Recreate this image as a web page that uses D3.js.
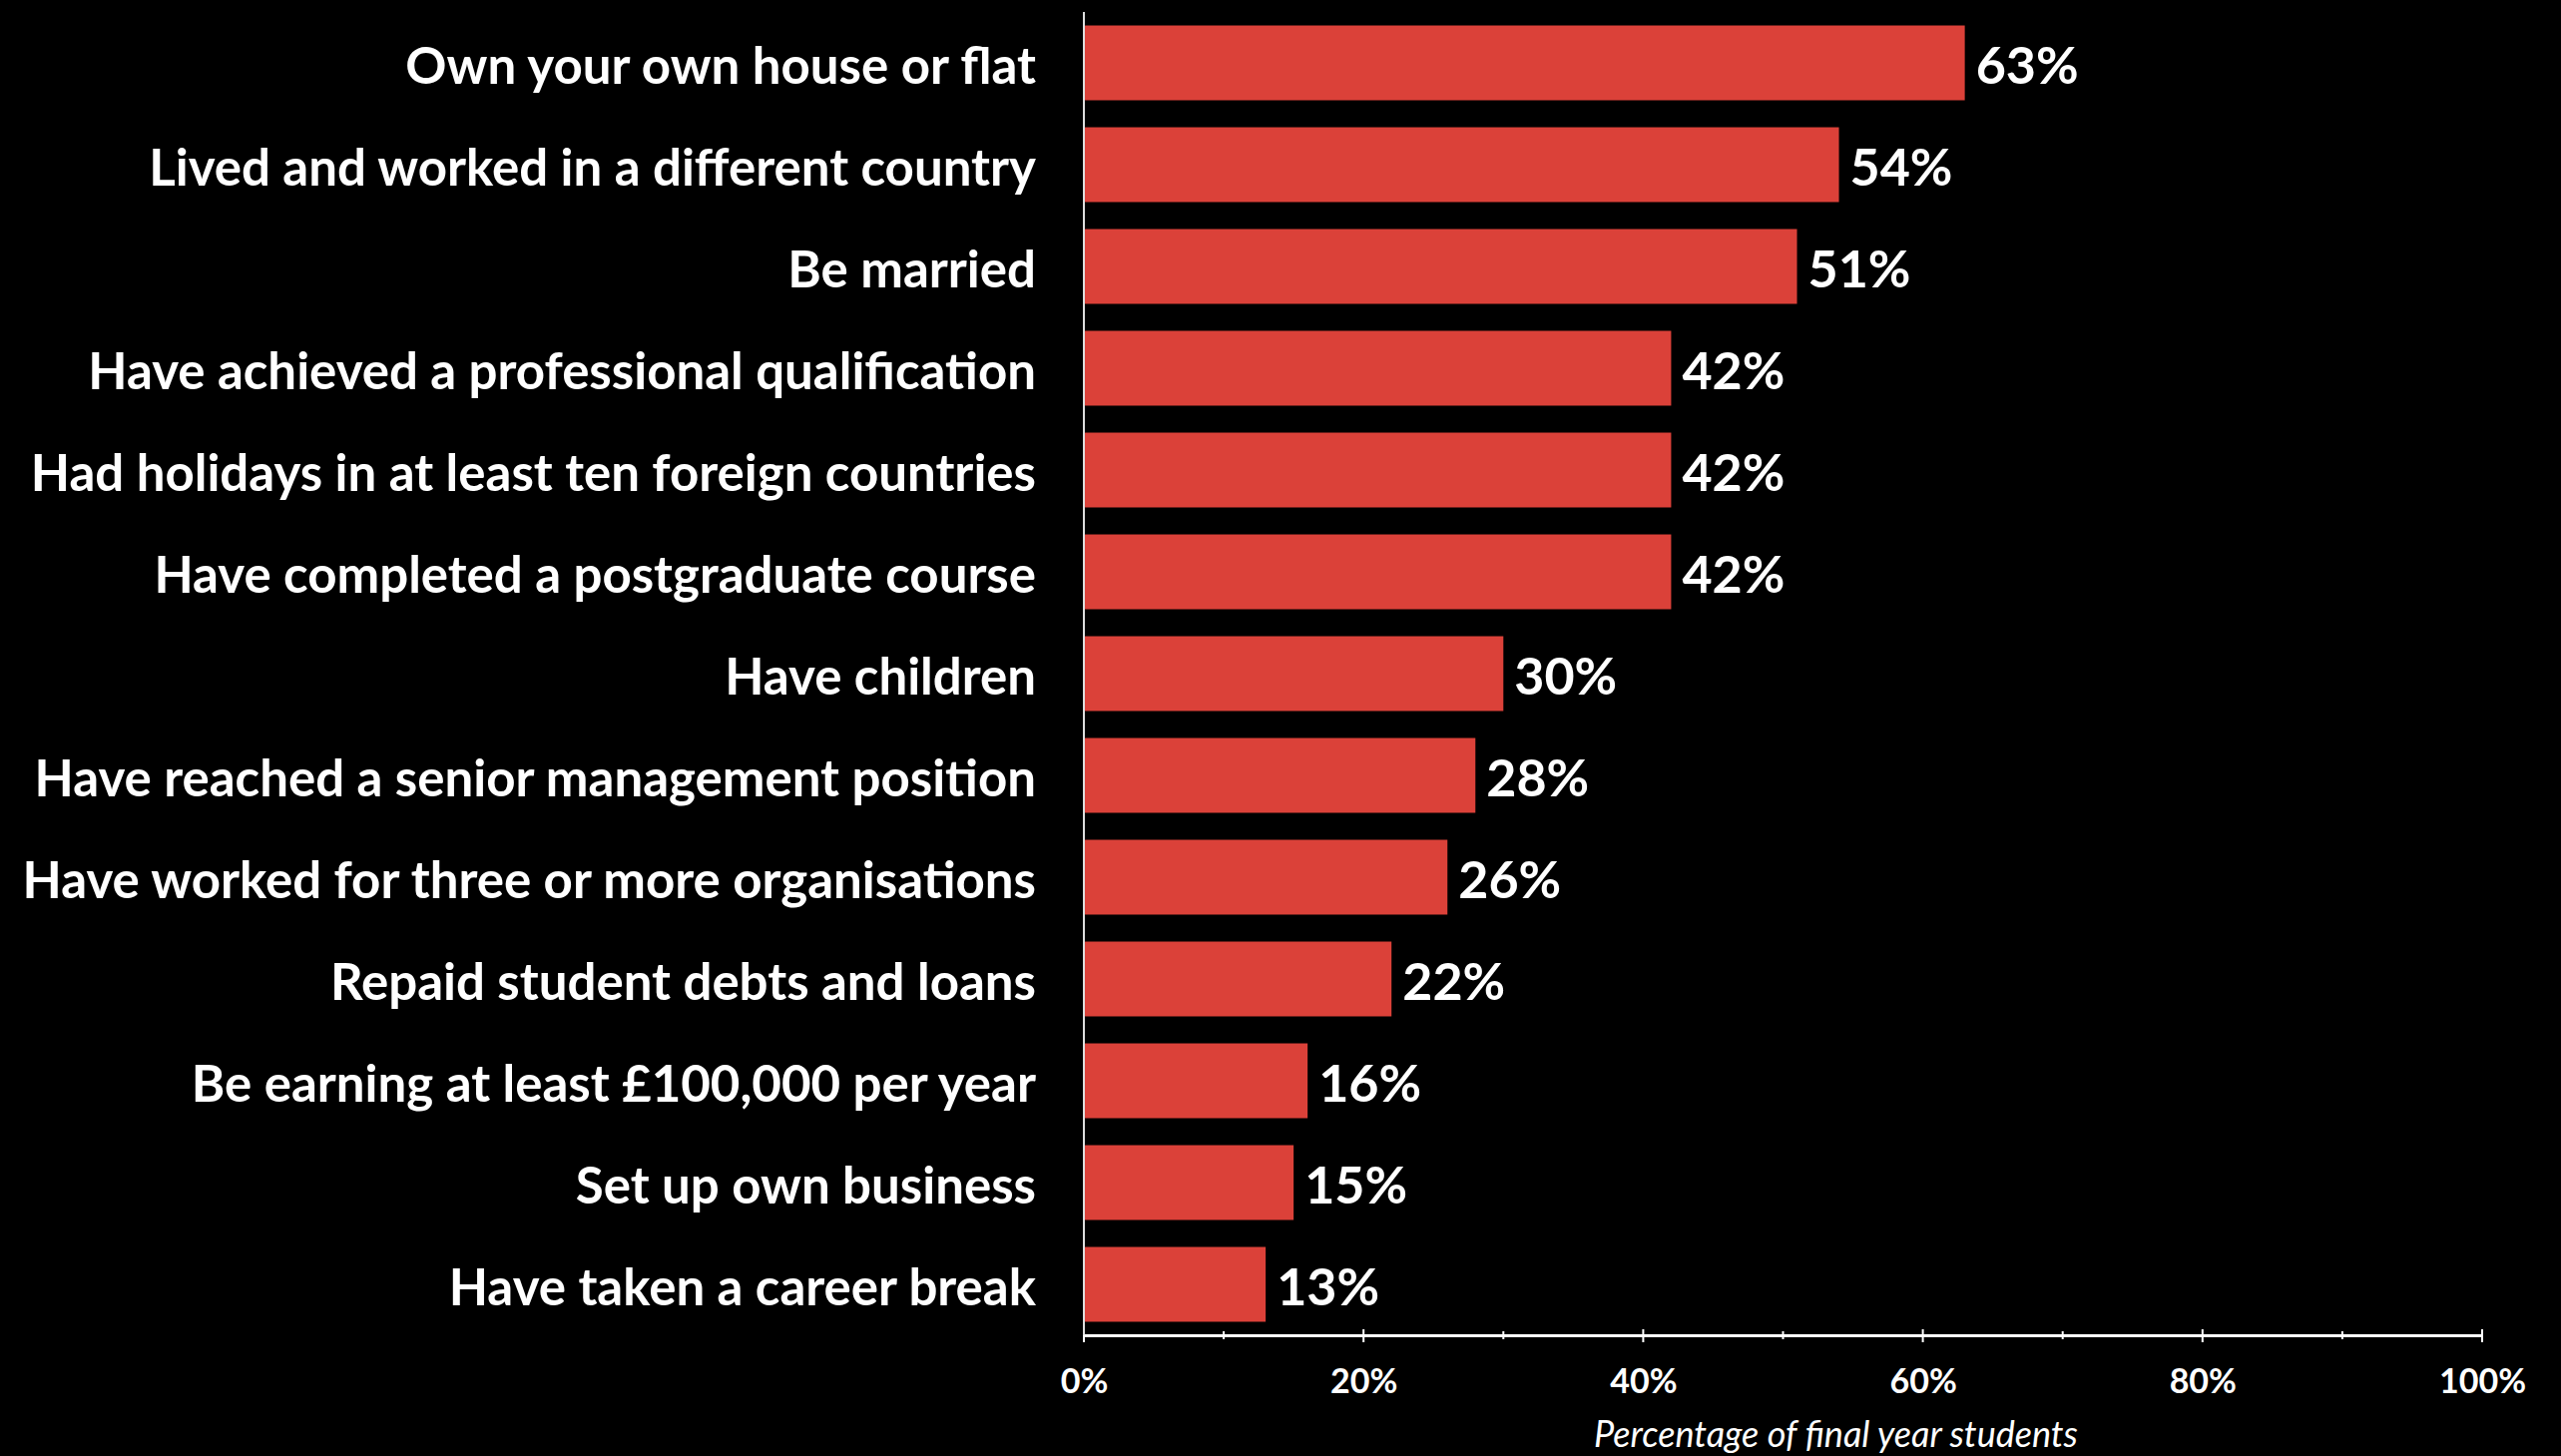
<!DOCTYPE html>
<html>
<head>
<meta charset="utf-8">
<script src="https://cdn.jsdelivr.net/npm/d3@7"></script>
<style>
  html, body { margin: 0; padding: 0; background: #000; }
  svg { display: block; }
</style>
</head>
<body>
<svg id="chart" width="2566" height="1459"></svg>
<script>
const categories = [
  "Own your own house or flat",
  "Lived and worked in a different country",
  "Be married",
  "Have achieved a professional qualification",
  "Had holidays in at least ten foreign countries",
  "Have completed a postgraduate course",
  "Have children",
  "Have reached a senior management position",
  "Have worked for three or more organisations",
  "Repaid student debts and loans",
  "Be earning at least £100,000 per year",
  "Set up own business",
  "Have taken a career break"
];
const values = [63, 54, 51, 42, 42, 42, 30, 28, 26, 22, 16, 15, 13];
const majorTicks = [0, 20, 40, 60, 80, 100];
const minorTicks = [10, 30, 50, 70, 90];
const axisTitle = "Percentage of final year students";

const FONT = "Lato, 'Open Sans', sans-serif";
const svg = d3.select("#chart");
const x0 = 1086, x1 = 2487, yTop = 12, yBot = 1338;

const x = d3.scaleLinear().domain([0, 100]).range([x0, x1]);
const y = d3.scaleBand().domain(categories).range([yTop, yBot])
  .paddingInner(0.265).paddingOuter(0.1325);

// bars
svg.append("g").selectAll("rect").data(values).join("rect")
  .attr("x", x(0))
  .attr("y", (d, i) => y(categories[i]))
  .attr("width", d => x(d) - x(0))
  .attr("height", y.bandwidth())
  .attr("fill", "#DB4139");

// category labels
svg.append("g").selectAll("text").data(categories).join("text")
  .attr("x", 1038)
  .attr("y", d => y(d) + y.bandwidth() / 2)
  .attr("dy", "0.41em")
  .attr("text-anchor", "end")
  .attr("fill", "#fff")
  .attr("font-family", FONT)
  .attr("font-weight", 700)
  .attr("font-size", 51)
  .text(d => d);

// value labels
svg.append("g").selectAll("text").data(values).join("text")
  .attr("x", d => x(d) + 11)
  .attr("y", (d, i) => y(categories[i]) + y.bandwidth() / 2)
  .attr("dy", "0.41em")
  .attr("fill", "#fff")
  .attr("font-family", FONT)
  .attr("font-weight", 700)
  .attr("font-size", 52)
  .text(d => d + "%");

// vertical axis line
svg.append("line")
  .attr("x1", x(0)).attr("x2", x(0))
  .attr("y1", yTop).attr("y2", yBot)
  .attr("stroke", "#ddd").attr("stroke-width", 2);

// x axis
const axisG = svg.append("g").attr("transform", `translate(0,${yBot})`);
const xAxis = d3.axisBottom(x).tickValues(majorTicks).tickFormat(d => d + "%").tickSizeInner(0).tickSizeOuter(0).tickPadding(34);
axisG.call(xAxis);
axisG.select(".domain").attr("stroke", "#fff").attr("stroke-width", 3);
axisG.selectAll(".tick text")
  .attr("fill", "#fff")
  .attr("font-family", FONT)
  .attr("font-weight", 700)
  .attr("font-size", 34);
// major ticks
axisG.selectAll(".maj").data(majorTicks).join("line").attr("class", "maj")
  .attr("x1", d => x(d)).attr("x2", d => x(d))
  .attr("y1", d => d === 0 ? 0 : -6).attr("y2", 7)
  .attr("stroke", "#fff").attr("stroke-width", 2);
axisG.selectAll(".min").data(minorTicks).join("line").attr("class", "min")
  .attr("x1", d => x(d)).attr("x2", d => x(d))
  .attr("y1", -4).attr("y2", 4)
  .attr("stroke", "#fff").attr("stroke-width", 2);

svg.append("text")
  .attr("x", 2082).attr("y", 1450)
  .attr("text-anchor", "end")
  .attr("fill", "#fff")
  .attr("font-family", FONT)
  .attr("font-style", "italic")
  .attr("font-size", 36)
  .text(axisTitle);
</script>
</body>
</html>
